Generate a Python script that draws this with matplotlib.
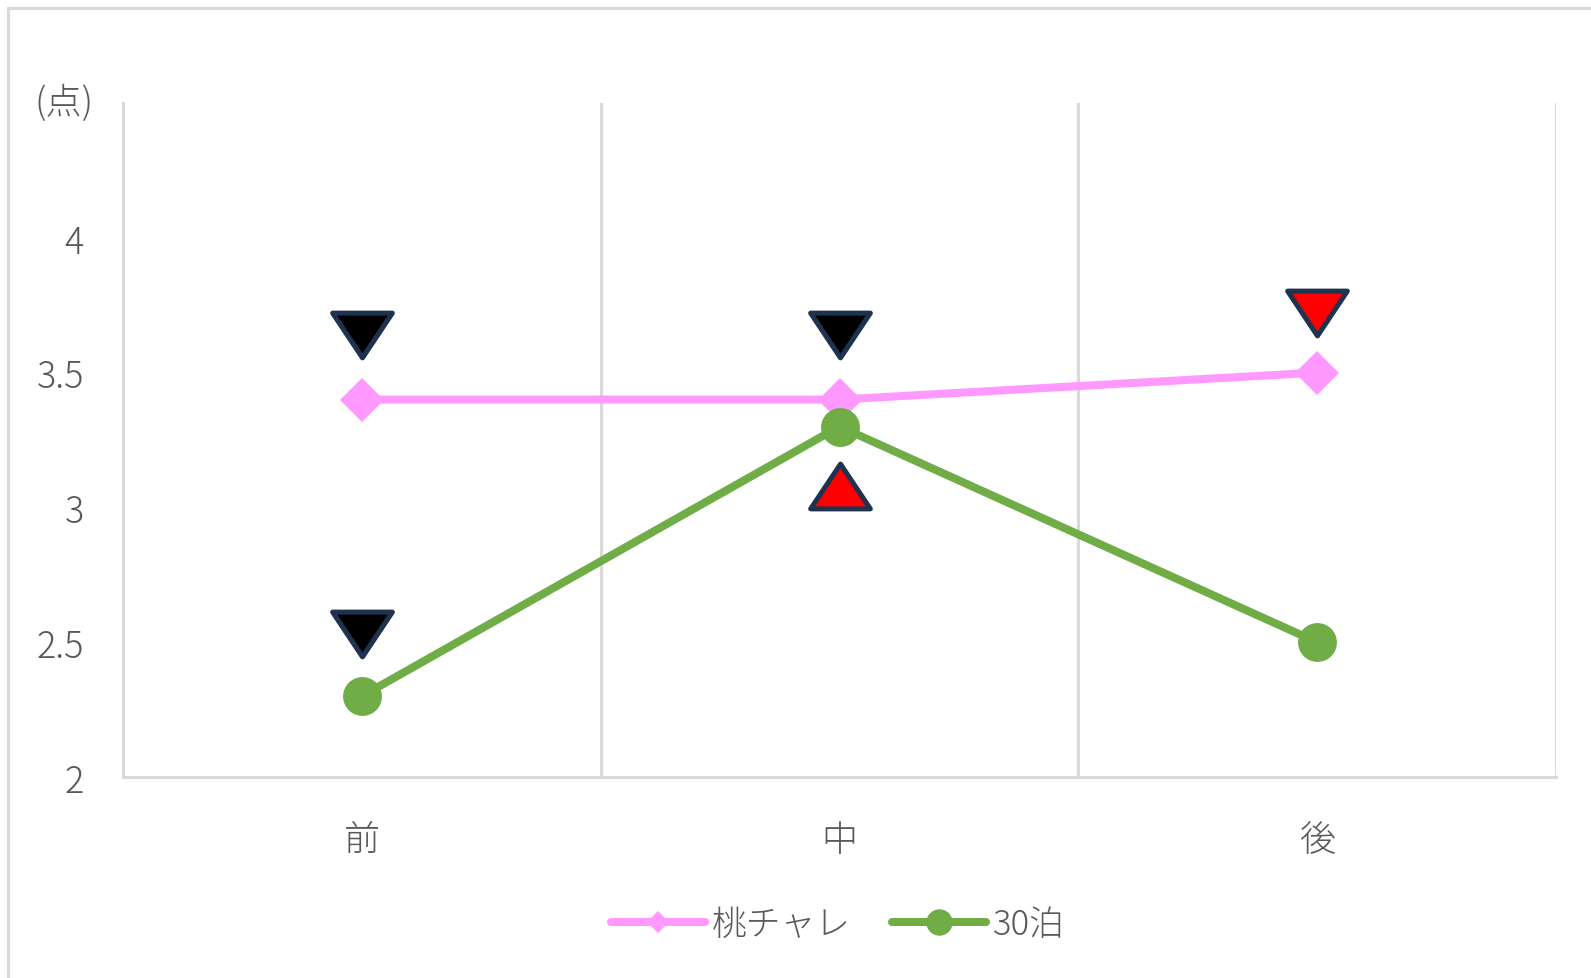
import numpy as np
import matplotlib
matplotlib.use("Agg")
import matplotlib.pyplot as plt
from matplotlib.lines import Line2D
from matplotlib.markers import MarkerStyle
from matplotlib.path import Path

plt.rcParams['font.family'] = ['Noto Sans CJK JP', 'DejaVu Sans']
plt.rcParams['font.weight'] = 'light'

categories = ['前', '中', '後']
momo_chare = [3.4, 3.4, 3.5]
haku_30 = [2.3, 3.3, 2.5]

# significance marks
down_black_cat = ['前', '前', '中']
down_black_val = [3.64, 2.53, 3.64]
down_red_cat = ['後']
down_red_val = [3.72]
up_red_cat = ['中']
up_red_val = [3.08]

yticks = [2, 2.5, 3, 3.5, 4]
ytick_labels = ['2', '2.5', '3', '3.5', '4']

PINK = '#ff99ff'
GREEN = '#70ad47'
GRID = '#d9d9d9'
TEXT = '#595959'
EDGE = '#1f3350'

tri_down = MarkerStyle(Path([(-1, 0.75), (1, 0.75), (0, -0.75), (-1, 0.75)],
                            closed=True), joinstyle='round')
tri_up = MarkerStyle(Path([(-1, -0.75), (1, -0.75), (0, 0.75), (-1, -0.75)],
                          closed=True), joinstyle='round')

W, H = 1591, 979
fig = plt.figure(figsize=(W / 100, H / 100), dpi=100)
ax = fig.add_axes([123 / W, 1 - 778 / H, (1556 - 123) / W, (778 - 104) / H])

x = np.arange(len(categories))
idx = {c: i for i, c in enumerate(categories)}

ax.plot(x, momo_chare, color=PINK, lw=5.8, marker='D', ms=22, mew=0,
        solid_capstyle='round', zorder=3)
ax.plot(x, haku_30, color=GREEN, lw=5.8, marker='o', ms=28, mew=0,
        solid_capstyle='round', zorder=4)

def sig(cats, vals, marker, fill):
    ax.plot([idx[c] for c in cats], vals, ls='none', marker=marker, ms=43,
            mfc=fill, mec=EDGE, mew=3.6, zorder=5)

sig(down_black_cat, down_black_val, tri_down, 'black')
sig(down_red_cat, down_red_val, tri_down, '#ff0000')
sig(up_red_cat, up_red_val, tri_up, '#ff0000')

ax.set_xlim(-0.5, len(categories) - 0.5)
ax.set_ylim(2, 4.5)
for gx in np.arange(0.5, len(categories), 1.0):
    ax.axvline(gx, color=GRID, lw=2.2, zorder=1)

for s in ['top', 'right']:
    ax.spines[s].set_visible(False)
for s in ['left', 'bottom']:
    ax.spines[s].set_color(GRID)
    ax.spines[s].set_linewidth(2.2)

ax.set_xticks(x)
ax.set_xticklabels(categories)
ax.set_yticks(yticks)
ax.set_yticklabels(ytick_labels)
ax.tick_params(axis='both', length=0, labelsize=26, labelcolor=TEXT)
ax.tick_params(axis='y', pad=28)
ax.tick_params(axis='x', pad=31)

fig.text(64 / W, 1 - 104 / H, '(点)', fontsize=26, color=TEXT,
         ha='center', va='center')

handles = [
    Line2D([], [], color=PINK, lw=5.8, marker='D', ms=11.5, mew=0,
           solid_capstyle='round'),
    Line2D([], [], color=GREEN, lw=5.8, marker='o', ms=19, mew=0,
           solid_capstyle='round'),
]
fig.legend(handles, ['桃チャレ', '30泊'], loc='center',
           bbox_to_anchor=(838 / W, 1 - 925 / H), ncol=2, frameon=False,
           fontsize=25, labelcolor=TEXT, handlelength=2.7,
           handletextpad=0.2, columnspacing=1.2)

# outer chart frame
fig.add_artist(Line2D([8 / W, 8 / W], [0, 1 - 9 / H], color=GRID, lw=2.2,
                      transform=fig.transFigure))
fig.add_artist(Line2D([8 / W, 1], [1 - 9 / H, 1 - 9 / H], color=GRID, lw=2.2,
                      transform=fig.transFigure))

fig.savefig('out.png', dpi=100)
